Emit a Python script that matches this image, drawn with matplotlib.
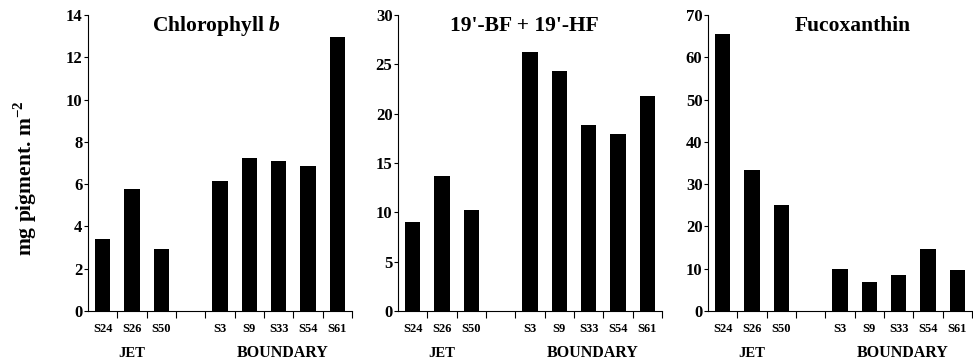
import numpy as np
import matplotlib
matplotlib.use("Agg")
import matplotlib.pyplot as plt

# station slots (empty slot separates JET and BOUNDARY)
stations = ["S24", "S26", "S50", "", "S3", "S9", "S33", "S54", "S61"]
bar_slots = [0, 1, 2, 4, 5, 6, 7, 8]

chl_b = [3.4, 5.75, 2.95, 6.15, 7.25, 7.1, 6.85, 12.95]
bf_hf = [9.0, 13.7, 10.2, 26.2, 24.3, 18.9, 17.9, 21.8]
fuco = [65.6, 33.4, 25.1, 10.0, 6.8, 8.6, 14.6, 9.7]

titles = ["Chlorophyll $\\mathbfit{b}$", "19'-BF + 19'-HF", "Fucoxanthin"]
ymaxes = [14, 30, 70]
ysteps = [2, 5, 10]
title_x = [0.485, 0.48, 0.55]

plt.rcParams['font.family'] = ['Liberation Serif', 'DejaVu Serif']
plt.rcParams['font.weight'] = 'bold'
plt.rcParams['mathtext.fontset'] = 'custom'
plt.rcParams['mathtext.bfit'] = 'Liberation Serif:bold:italic'
plt.rcParams['mathtext.bf'] = 'Liberation Serif:bold'

fig = plt.figure(figsize=(9.73, 3.63), dpi=100)
lefts = [88, 398, 708]

for i, vals in enumerate([chl_b, bf_hf, fuco]):
    ax = fig.add_axes([lefts[i] / 973, 52 / 363, 264 / 973, 296 / 363])
    x = np.array(bar_slots) + 0.5
    ax.bar(x, vals, width=0.53, color="black")
    ax.set_xlim(0, 9)
    ax.set_ylim(0, ymaxes[i])
    ax.set_yticks(np.arange(0, ymaxes[i] + 1, ysteps[i]))
    ax.set_xticks(np.arange(1, 10))
    ax.set_xticklabels([])
    for k, s in enumerate(stations):
        if s:
            ax.text(k + 0.5, -0.04, s, transform=ax.get_xaxis_transform(),
                    ha="center", va="top", fontsize=9, fontweight="bold")
    ax.text(1.5, -0.155, "JET", transform=ax.get_xaxis_transform(),
            ha="center", va="baseline", fontsize=10.5, fontweight="bold")
    ax.text(6.65, -0.155, "BOUNDARY", transform=ax.get_xaxis_transform(),
            ha="center", va="baseline", fontsize=11.5, fontweight="bold")
    ax.spines["top"].set_visible(False)
    ax.spines["right"].set_visible(False)
    ax.tick_params(axis="y", direction="out", length=3, labelsize=12, pad=1)
    ax.tick_params(axis="x", direction="out", length=5)
    for lab in ax.get_yticklabels():
        lab.set_fontweight("bold")
    ax.text(title_x[i], 0.963, titles[i], transform=ax.transAxes,
            ha="center", va="center", fontsize=15.5, fontweight="bold")

fig.text(25 / 973, 0.51, "mg pigment. m$^{\\mathbf{-2}}$", rotation=90,
         ha="center", va="center", fontsize=15.5, fontweight="bold")

fig.savefig("out.png", dpi=100)
